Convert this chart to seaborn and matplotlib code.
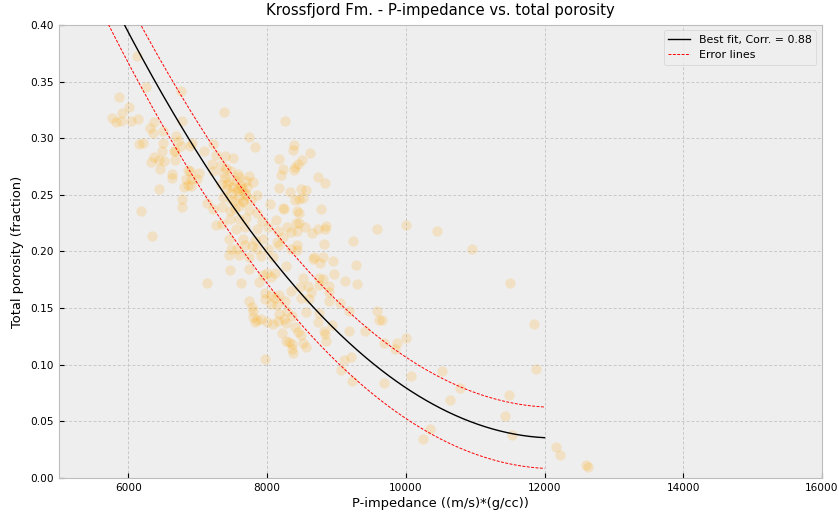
import numpy as np
import pandas as pd
import matplotlib
matplotlib.use("Agg")
import matplotlib.pyplot as plt
import seaborn as sns

# P-impedance ((m/s)*(g/cc))
impedance = [
    6125, 6255, 6758, 5870, 6014, 7381, 5765, 5827, 5914, 5895, 6039, 6140, 6374, 6777,
    6317, 6494, 6355, 6691, 6710, 6148, 6206, 6499, 6911, 6763, 7223, 7094, 6489, 6672,
    7266, 7391, 6364, 6441, 6518, 6326, 6672, 6662, 7199, 7334, 6451, 6853, 6892, 7017,
    6633, 6623, 6835, 6997, 6853, 6806, 6902, 6441, 6767, 6767, 6187, 6341, 7745, 8263,
    6882, 7823, 7506, 7410, 7218, 7362, 7486, 7582, 7736, 7803, 7602, 6902, 7343, 7420,
    7515, 7717, 7679, 7851, 7593, 7371, 7486, 7650, 7774, 8043, 7132, 7218, 7352, 7467,
    7544, 7745, 7861, 8234, 7467, 7593, 7698, 7928, 8129, 7266, 7352, 7554, 7679, 7861,
    8015, 8158, 7458, 7658, 7823, 7938, 8140, 7688, 7784, 7478, 7573, 7861, 8015, 8177,
    7449, 7593, 7736, 7918, 8082, 7467, 7736, 7938, 8053, 8120, 8273, 8388, 8369, 8168,
    8398, 8446, 8234, 8206, 8494, 8561, 8331, 8168, 8408, 8456, 8245, 8427, 8465, 8417,
    8465, 8282, 8234, 8436, 8436, 8350,
    7400, 7450, 7550, 7620, 7700, 7560, 7640, 7480, 7520, 7600, 7700, 7420, 7580, 7660,
    8618, 8503, 8388, 8734, 8830, 8523, 8772, 8551, 8734, 8849, 8830, 8647, 8350, 9586,
    10000, 9233, 8820, 8436, 8676, 8666, 8810, 8954, 8762, 9280,
    7141, 7621, 7889, 7736, 7784, 7794, 7794, 7851, 7909, 7832, 7975, 7966, 8053, 8168,
    8120, 8053, 8140, 8253, 8168, 8283, 8360, 8245, 8273, 8004, 8082, 8158, 8398, 8446,
    8484, 8216, 8273, 8321, 8360, 8360, 8369, 8523, 8561, 7966, 8340, 8484, 8523, 8590,
    8004,
    8751, 8810, 8964, 9118, 9290, 8475, 8751, 8887, 8628, 8897, 8600, 8887, 9050, 8561,
    8744, 9184, 9586, 9608, 9664, 8734, 8935, 9175, 8820, 9406, 8830, 8849, 9683, 9875,
    10000, 9846, 9108, 9213, 9060, 9223, 9683, 10076,
    10450, 10960, 11496, 11852, 11881, 10527, 10786, 10643, 11486, 11428, 11525, 10345,
    10249, 12168, 12226, 12600, 12623,
]

# Total porosity (fraction)
porosity = [
    0.373, 0.345, 0.342, 0.336, 0.328, 0.323, 0.318, 0.314, 0.322, 0.315, 0.315, 0.317, 0.314, 0.315,
    0.309, 0.306, 0.305, 0.302, 0.298, 0.295, 0.296, 0.2955, 0.2955, 0.293, 0.295, 0.2885, 0.2885, 0.2885,
    0.2855, 0.284, 0.283, 0.281, 0.280, 0.279, 0.281, 0.289, 0.277, 0.276, 0.273, 0.272, 0.271, 0.269,
    0.268, 0.265, 0.264, 0.264, 0.259, 0.257, 0.258, 0.255, 0.246, 0.2396, 0.236, 0.2137, 0.301, 0.315,
    0.293, 0.292, 0.2826, 0.274, 0.271, 0.269, 0.271, 0.268, 0.267, 0.261, 0.2655, 0.264, 0.260, 0.2596,
    0.2572, 0.2566, 0.2514, 0.250, 0.249, 0.2484, 0.2455, 0.2449, 0.2455, 0.242, 0.2426, 0.2373, 0.2396, 0.236,
    0.2378, 0.2366, 0.2337, 0.2384, 0.229, 0.229, 0.230, 0.2267, 0.2278, 0.2237, 0.2243, 0.2196, 0.2214, 0.2201,
    0.2219, 0.2184, 0.2113, 0.2113, 0.210, 0.2113, 0.2084, 0.206, 0.2049, 0.2019, 0.2025, 0.2019, 0.2025, 0.206,
    0.1966, 0.1966, 0.1949, 0.196, 0.1954, 0.1837, 0.1848, 0.1795, 0.1778, 0.1808, 0.1872, 0.2937, 0.2896, 0.2814,
    0.275, 0.2773, 0.2726, 0.2678, 0.2555, 0.2543, 0.2525, 0.256, 0.2455, 0.2466, 0.2378, 0.2355, 0.2337, 0.2254,
    0.2254, 0.2214, 0.2132, 0.2178, 0.2055, 0.2019,
    0.265, 0.262, 0.262, 0.258, 0.262, 0.253, 0.255, 0.252, 0.245, 0.240, 0.250, 0.255, 0.256, 0.244,
    0.2873, 0.2808, 0.272, 0.266, 0.2608, 0.2472, 0.2378, 0.2214, 0.2196, 0.2225, 0.2196, 0.2166, 0.2172, 0.2196,
    0.2231, 0.209, 0.2066, 0.2013, 0.1949, 0.1931, 0.1954, 0.1919, 0.1896, 0.1878,
    0.1719, 0.1719, 0.1731, 0.1566, 0.1513, 0.1472, 0.1424, 0.1395, 0.1407, 0.1377, 0.1578, 0.163, 0.1613, 0.1619,
    0.159, 0.1536, 0.153, 0.1566, 0.1448, 0.1477, 0.143, 0.1401, 0.1366, 0.1377, 0.136, 0.1384, 0.1336, 0.1289,
    0.126, 0.1278, 0.1207, 0.1201, 0.1183, 0.1136, 0.1106, 0.1189, 0.1154, 0.1048, 0.1648, 0.159, 0.1766, 0.1695,
    0.1813,
    0.1766, 0.176, 0.180, 0.1742, 0.1713, 0.169, 0.1702, 0.1695, 0.1642, 0.1642, 0.1583, 0.156, 0.1543, 0.1466,
    0.146, 0.1477, 0.1472, 0.1395, 0.1395, 0.1377, 0.1348, 0.1295, 0.130, 0.1295, 0.1271, 0.1212, 0.1195, 0.1195,
    0.1236, 0.1136, 0.1042, 0.1071, 0.0954, 0.0854, 0.0836, 0.090,
    0.2184, 0.2019, 0.1719, 0.136, 0.0965, 0.0948, 0.0795, 0.0689, 0.073, 0.0547, 0.0382, 0.0435,
    0.0347, 0.0277, 0.020, 0.0118, 0.010,
]

# Quadratic best-fit coefficients (x in thousands), error offset, fit range
fit_coeffs = [0.0094, -0.22885, 1.4282]
error_offset = 0.0271
fit_range = [5600, 12000]

x_ticks = [6000, 8000, 10000, 12000, 14000, 16000]
y_ticks = [0.00, 0.05, 0.10, 0.15, 0.20, 0.25, 0.30, 0.35, 0.40]

df = pd.DataFrame({"imp": impedance, "phi": porosity})

plt.style.use("bmh")
plt.rcParams["grid.color"] = "#c8c8c8"
plt.rcParams["grid.linestyle"] = (0, (3, 2))
plt.rcParams["grid.linewidth"] = 0.7

fig, ax = plt.subplots(figsize=(8.39, 5.16), dpi=100)
fig.subplots_adjust(left=0.0703, right=0.9797, top=0.9516, bottom=0.0736)

sns.scatterplot(data=df, x="imp", y="phi", ax=ax, color="orange", alpha=0.18,
                s=55, linewidth=0, zorder=2)

xf = np.linspace(fit_range[0], fit_range[1], 300)
yf = np.polyval(fit_coeffs, xf / 1000.0)
ax.plot(xf, yf, color="black", lw=1.0, label="Best fit, Corr. = 0.88", zorder=3)
ax.plot(xf, yf + error_offset, color="red", lw=0.7, ls="--", dashes=(3, 1.5),
        label="Error lines", zorder=3)
ax.plot(xf, yf - error_offset, color="red", lw=0.7, ls="--", dashes=(3, 1.5), zorder=3)

ax.set_xlim(5000, 16000)
ax.set_ylim(0, 0.4)
ax.set_xticks(x_ticks)
ax.set_yticks(y_ticks)
ax.set_xticklabels([str(t) for t in x_ticks])
ax.set_yticklabels([f"{t:.2f}" for t in y_ticks])
ax.tick_params(labelsize=7.6)
ax.set_xlabel("P-impedance ((m/s)*(g/cc))", fontsize=9.4, labelpad=3)
ax.set_ylabel("Total porosity (fraction)", fontsize=9.4, labelpad=5)
ax.set_title("Krossfjord Fm. - P-impedance vs. total porosity", fontsize=10.7, pad=7)
ax.legend(loc="upper right", fontsize=7.9)

fig.savefig("out.png", dpi=100)
